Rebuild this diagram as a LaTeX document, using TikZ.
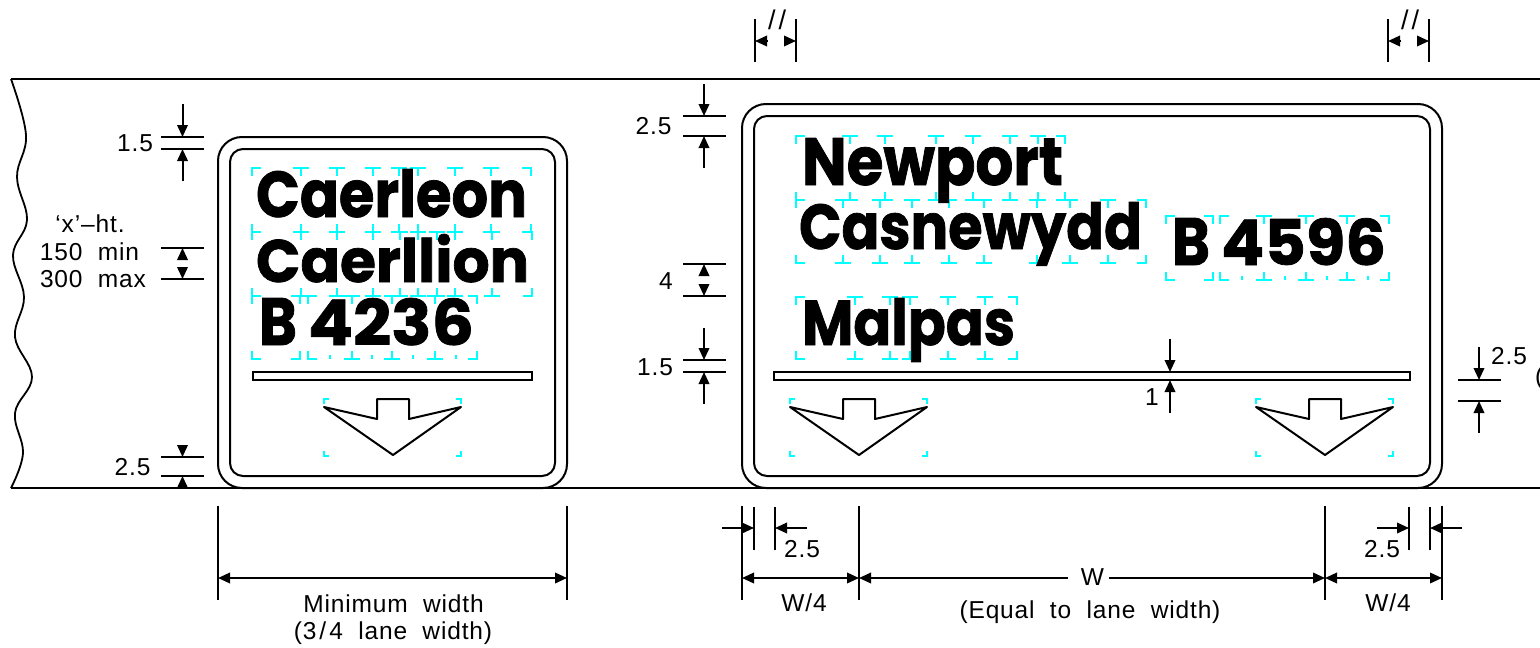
\documentclass[tikz,border=0pt]{standalone}
\usepackage{fontspec}
\usepackage{graphicx}
\usetikzlibrary{arrows.meta}
\setmainfont[LetterSpace=3.5,WordSpace=2]{Liberation Sans}
\newfontfamily\signfont[BoldFeatures={FakeBold=1.2}]{Poppins}
\definecolor{tilecyan}{RGB}{0,255,255}
\tikzset{
  ink/.style={draw=black,line width=2pt},
  inkthin/.style={draw=black,line width=1.8pt},
  tilemark/.style={draw=tilecyan,line width=1.7pt},
  dimhead/.style={draw=black,line width=2pt,-{Triangle[length=12pt,width=10.5pt]}},
  dimbothend/.style={draw=black,line width=2pt,{Triangle[length=12pt,width=10.5pt]}-{Triangle[length=12pt,width=10.5pt]}},
  note/.style={inner sep=0pt,outer sep=0pt,anchor=base,font=\fontsize{24.5}{24.5}\selectfont},
  word/.style={inner sep=0pt,outer sep=0pt,anchor=base west,font=\signfont\bfseries\fontsize{60}{60}\selectfont}
}
% name, x, baseline, width, height, text
\newcommand{\signword}[6]{\node[word] (#1) at (#2,#3) {\resizebox{#4pt}{#5pt}{#6}};}
% x0, x1, inner x list, top, bottom
\newcommand{\tilerow}[5]{%
  \draw[tilemark] (#1+9,#4) -- (#1,#4) -- (#1,#4+8);
  \draw[tilemark] (#2-9,#4) -- (#2,#4) -- (#2,#4+8);
  \draw[tilemark] (#1+9,#5) -- (#1,#5) -- (#1,#5-8);
  \draw[tilemark] (#2-9,#5) -- (#2,#5) -- (#2,#5-8);
  \foreach \tx in {#3} {
    \draw[tilemark] (\tx-8,#4) -- (\tx+8,#4) (\tx,#4) -- (\tx,#4+8);
    \draw[tilemark] (\tx-8,#5) -- (\tx+8,#5) (\tx,#5) -- (\tx,#5-8);
  }}
% x offset of the arrow symbol
\newcommand{\lanearrow}[1]{%
  \begin{scope}[xshift=#1pt]
    \foreach \cx/\sx in {324/1,461/-1} {
      \draw[tilemark] (\cx+5*\sx,399) -- (\cx,399) -- (\cx,404);
      \draw[tilemark] (\cx+5*\sx,456) -- (\cx,456) -- (\cx,451);
    }
    \draw[ink,line join=round] (324,407) -- (377,419) -- (377,399) -- (409,399) -- (409,419) -- (461,407) -- (393,455) -- cycle;
  \end{scope}}
% x1, x2, y : tick line
\newcommand{\htick}[3]{\draw[inkthin] (#1,#3) -- (#2,#3);}
\newcommand{\vtick}[3]{\draw[inkthin] (#1,#2) -- (#1,#3);}
\begin{document}
\begin{tikzpicture}[x=1pt,y=-1pt]
\useasboundingbox (0,0) rectangle (1540,648);
\clip (0,0) rectangle (1540,648);
\fill[white] (0,0) rectangle (1540,648);

% road edges and break line
\draw[ink] (1540,79) -- (11,79);
\draw[inkthin] plot[smooth,tension=0.65] coordinates {(11,79) (26,135) (17,177) (27,220) (13,255) (24,297) (15,337) (32,377) (15,413) (23,453) (11,488)};
\draw[ink] (11,488) -- (1540,488);

% tile marks, left sign
\tilerow{252}{531}{301,337,373,399,418,455,491}{168}{232}
\tilerow{252}{532}{301,337,373,400,418,437,455,492}{232}{296}
\tilerow{252}{300}{}{296}{359}
\tilerow{308}{477}{352,392,435}{296}{359}
\foreach \dx in {330,372,413,456} {\draw[tilemark] (\dx,359) -- (\dx,355);}

% tile marks, right sign
\tilerow{796}{1065}{850,885,936,973,1010,1038}{136}{200}
\tilerow{796}{1146}{843,880,912,949,984,1037,1070,1108}{200}{263}
\tilerow{796}{1017}{855,890,910,948,985}{297}{359}
\tilerow{1166}{1213}{}{216}{280}
\tilerow{1220}{1389}{1264,1306,1347}{216}{280}
\foreach \dx in {1242,1285,1327,1368} {\draw[tilemark] (\dx,280) -- (\dx,276);}

% sign panels
\draw[ink,fill=none,rounded corners=24pt] (218,137) rectangle (567,488);
\draw[ink,rounded corners=13pt] (230,149) rectangle (555,476);
\draw[ink,rounded corners=24pt] (742,104) rectangle (1442,488);
\draw[ink,rounded corners=13pt] (754,116) rectangle (1430,476);

% sign legends
\signword{caerleon}{256}{217}{271}{48}{Caerleon}
\signword{caerllion}{256}{282}{273}{48}{Caerllion}
\signword{bleft}{259}{345}{38}{47}{B}
\signword{routeleft}{308}{345}{166}{47}{4236}
\signword{newport}{802}{185}{261}{47}{Newport}
\signword{casnewydd}{799}{249}{343}{47}{Casnewydd}
\signword{malpas}{802}{345}{213}{47}{Malpas}
\signword{bright}{1172}{265}{38}{47}{B}
\signword{routeright}{1221}{265}{165}{47}{4596}

% bars and arrows
\draw[ink] (253,372) rectangle (532,380);
\draw[ink] (774,372) rectangle (1410,380);
\lanearrow{0}
\lanearrow{466}
\lanearrow{932}

% left dimensions
\htick{161}{204}{137} \htick{161}{204}{149}
\draw[dimhead] (182.5,104) -- (182.5,137);
\draw[dimhead] (182.5,181) -- (182.5,149);
\node[note] (dimA) at (135,151) {1.5};
\node[note] (xht) at (90,232) {‘x’–ht.};
\node[note] (xmin) at (89.5,260) {150 min};
\node[note] (xmax) at (93,287) {300 max};
\htick{161}{204}{248} \htick{161}{204}{279}
\draw[dimhead] (182.5,259) -- (182.5,248);
\draw[dimhead] (182.5,268) -- (182.5,279);
\htick{161}{204}{457} \htick{161}{204}{476}
\draw[dimhead] (182.5,446) -- (182.5,457);
\draw[dimhead] (182.5,487) -- (182.5,476);
\node[note] (dimB) at (132.5,475) {2.5};

% left sign width
\vtick{218}{506}{600} \vtick{567}{506}{600}
\draw[dimbothend] (218,578) -- (567,578);
\node[note] (minw) at (393.5,612) {Minimum width};
\node[note] (minw2) at (393,639) {(3\kern 3pt/\kern 3pt4 lane width)};

% top parallel marks
\vtick{755}{19}{62} \vtick{796}{19}{62}
\draw[dimhead] (767,41) -- (755,41);
\draw[dimhead] (784,41) -- (796,41);
\node[note,font=\fontsize{27}{27}\selectfont] (parA) at (777,29) {/\kern 3pt/};
\vtick{1388}{19}{62} \vtick{1429}{19}{62}
\draw[dimhead] (1400,41) -- (1388,41);
\draw[dimhead] (1417,41) -- (1429,41);
\node[note,font=\fontsize{27}{27}\selectfont] (parB) at (1410,29) {/\kern 3pt/};

% right sign, left dimensions
\htick{683}{726}{116} \htick{683}{726}{136}
\draw[dimhead] (704,84) -- (704,116);
\draw[dimhead] (704,168) -- (704,136);
\node[note] (dimC) at (653.5,134) {2.5};
\htick{683}{726}{264} \htick{683}{726}{296}
\draw[dimhead] (704,275) -- (704,264);
\draw[dimhead] (704,285) -- (704,296);
\node[note] (dimD) at (666,289) {4};
\htick{683}{726}{360} \htick{683}{726}{372}
\draw[dimhead] (704,328) -- (704,360);
\draw[dimhead] (704,404) -- (704,372);
\node[note] (dimE) at (655,375) {1.5};

% bar thickness
\draw[dimhead] (1170,339) -- (1170,372);
\draw[dimhead] (1170,413) -- (1170,380);
\node[note] (dimF) at (1152,405) {1};

% right side
\htick{1458}{1501}{380} \htick{1458}{1501}{401}
\draw[dimhead] (1479,347) -- (1479,380);
\draw[dimhead] (1479,433) -- (1479,401);
\node[note] (dimG) at (1509,364) {2.5};
\node[note,anchor=base west] (paren) at (1535,384) {(};

% bottom dimensions, right sign
\vtick{742}{506}{600} \vtick{859}{506}{600}
\vtick{1325}{506}{600} \vtick{1442}{506}{600}
\vtick{754}{507}{550} \vtick{775}{507}{550}
\vtick{1409}{507}{550} \vtick{1430}{507}{550}
\draw[dimhead] (722,528) -- (754,528);
\draw[dimhead] (807,528) -- (775,528);
\draw[dimhead] (1377,528) -- (1409,528);
\draw[dimhead] (1462,528) -- (1430,528);
\node[note] (dimH) at (802,557) {2.5};
\node[note] (dimI) at (1382,557) {2.5};
\draw[dimbothend] (742,578) -- (859,578);
\draw[dimbothend] (1325,578) -- (1442,578);
\draw[draw=black,line width=2pt,{Triangle[length=12pt,width=10.5pt]}-] (859,578) -- (1068,578);
\draw[dimhead] (1109,578) -- (1325,578);
\node[note] (lanew) at (1092.5,585) {W};
\node[note] (lanetxt) at (1090,618) {(Equal to lane width)};
\node[note] (qA) at (804,611) {W/4};
\node[note] (qB) at (1388,611) {W/4};
\end{tikzpicture}
\end{document}
